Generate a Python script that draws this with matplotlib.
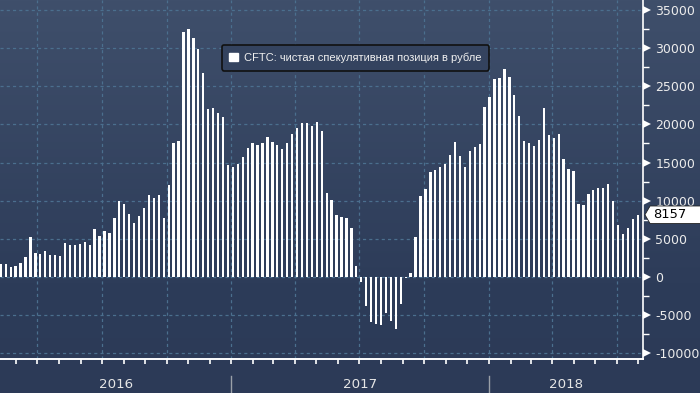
import numpy as np
import pandas as pd
import matplotlib
matplotlib.use('Agg')
import matplotlib.pyplot as plt
import matplotlib.dates as mdates
import matplotlib.transforms as mtransforms
from matplotlib.patches import Patch, Polygon
from matplotlib.colors import LinearSegmentedColormap

# weekly CFTC net speculative position in rouble (contracts)
start_date = '2016-02-09'
positions = [
    1660, 1660, 1310, 1440, 1835, 2620, 5240, 3150, 3015, 3410,
    2885, 2885, 2750, 4460, 4195, 4195, 4325, 4590, 4195, 6290,
    5375, 6030, 5770, 7735, 9965, 9570, 8260, 7080, 8000, 9045,
    10750, 10355, 10750, 7735, 12060, 17570, 17830, 32120, 32510, 31330,
    29890, 26740, 22020, 22150, 21500, 20975, 14680, 14420, 14815, 15730,
    16910, 17570, 17300, 17570, 18350, 17700, 17300, 16780, 17570, 18750,
    19530, 20190, 20190, 19800, 20320, 19140, 11010, 10095, 8130, 7865,
    7735, 6425, 1440, -655, -3760, -5860, -6120, -6250, -4680, -5730,
    -6780, -3500, -90, 525, 5240, 10620, 11540, 13770, 14030, 14420,
    14815, 15990, 17700, 15860, 14420, 16520, 17045, 17440, 22280, 23600,
    25960, 26090, 27270, 26220, 23860, 21110, 17830, 17570, 17170, 17960,
    22150, 18620, 18220, 18750, 15470, 14160, 13900, 9570, 9440, 10880,
    11400, 11670, 11670, 12190, 9965, 6820, 5640, 6425, 7600, 8157,
]
last_value = positions[-1]
years = [2016, 2017, 2018]
legend_label = 'CFTC: чистая спекулятивная позиция в рубле'

dates = pd.date_range(start_date, periods=len(positions), freq='7D')

fig = plt.figure(figsize=(7, 3.93), dpi=100)

# gradient background over the whole figure
bg = fig.add_axes([0, 0, 1, 1])
bg.set_axis_off()
cmap = LinearSegmentedColormap.from_list('bg', [(0, '#3f4f6b'), (0.72, '#2d3c59'), (1, '#2c3a57')])
grad = np.linspace(0, 1, 256).reshape(-1, 1)
bg.imshow(grad, aspect='auto', cmap=cmap, extent=[0, 1, 0, 1])

ax = fig.add_axes([0, 1 - 359 / 393, 643 / 700, 359 / 393])
ax.patch.set_alpha(0)

ax.bar(dates, positions, width=3.3, color='white', zorder=3)

ax.set_xlim(pd.Timestamp('2016-02-07 20:00'), pd.Timestamp('2018-08-07 12:00'))
ax.set_ylim(-10750, 36310)

# grid
grid_kw = dict(color='#4b6f8e', linestyle=(0, (2.5, 2.5)), linewidth=0.9, zorder=1)
for v in range(-10000, 35001, 5000):
    ax.axhline(v, **grid_kw)
for q in pd.date_range('2016-04-01', '2018-07-01', freq='QS'):
    ax.axvline(q, **grid_kw)

# spines
for s in ['left', 'top']:
    ax.spines[s].set_visible(False)
ax.spines['bottom'].set_color('white')
ax.spines['bottom'].set_linewidth(1.4)
ax.spines['right'].set_color('white')
ax.spines['right'].set_linewidth(1.2)

# x ticks: monthly, no labels
ax.xaxis.set_major_locator(mdates.MonthLocator())
ax.xaxis.set_major_formatter(plt.NullFormatter())
ax.tick_params(axis='x', which='major', direction='out', length=3.5, width=1.2, color='white')

# y axis on right
ax.yaxis.tick_right()
ax.set_yticks(range(-10000, 35001, 5000))
ax.set_yticks(range(-7500, 35001, 5000), minor=True)
ax.set_yticklabels([str(v) for v in range(-10000, 35001, 5000)])
ax.tick_params(axis='y', which='major', length=0, pad=9, labelsize=9.0, labelcolor='#ececec')
ax.tick_params(axis='y', which='minor', direction='out', length=4, width=1, color='white')

tri = mtransforms.offset_copy(mtransforms.blended_transform_factory(ax.transAxes, ax.transData),
                              fig=fig, x=4, y=0, units='dots')
ax.plot([1.0] * 10, list(range(-10000, 35001, 5000)), linestyle='none', marker='>',
        markersize=6, color='white', markeredgewidth=0, transform=tri, clip_on=False, zorder=5)

# year labels and separators
x0, x1 = ax.get_xlim()
for yr in years:
    a = max(mdates.date2num(pd.Timestamp(f'{yr}-01-01')), x0)
    b = min(mdates.date2num(pd.Timestamp(f'{yr + 1}-01-01')), x1)
    ax.text((a + b) / 2, -0.072, str(yr), transform=ax.get_xaxis_transform(),
            ha='center', va='center', fontsize=9.6, color='#e6e6e6')
for yr in years[1:]:
    ax.plot([pd.Timestamp(f'{yr}-01-01')] * 2, [-0.047, -0.1], color='#9aa0a8', linewidth=1,
            transform=ax.get_xaxis_transform(), clip_on=False)

# legend
leg = ax.legend(handles=[Patch(facecolor='white', edgecolor='white')], labels=[legend_label],
                loc='upper left', bbox_to_anchor=(216 / 643, 1 - 39 / 359),
                prop={'family': 'Liberation Sans', 'size': 8},
                frameon=True, fancybox=True, facecolor='#34435f', edgecolor='#111111',
                framealpha=1, handlelength=0.8, handleheight=0.8, handletextpad=0.5,
                borderpad=0.7, labelcolor='#f0f0f0')
leg.get_frame().set_linewidth(1.2)

# last value tag
tag_tr = mtransforms.blended_transform_factory(ax.transAxes, ax.transData)
h = 1150
tag = Polygon([(1.003, last_value), (1.011, last_value + h), (1.09, last_value + h),
               (1.09, last_value - h), (1.011, last_value - h)],
              closed=True, facecolor='white', edgecolor='#222222', linewidth=0.6,
              transform=tag_tr, clip_on=False, zorder=6)
ax.add_patch(tag)
ax.text(1.015, last_value, str(last_value), transform=tag_tr, ha='left', va='center',
        fontsize=9.4, color='black', zorder=7)

fig.savefig('out.png', dpi=100)
